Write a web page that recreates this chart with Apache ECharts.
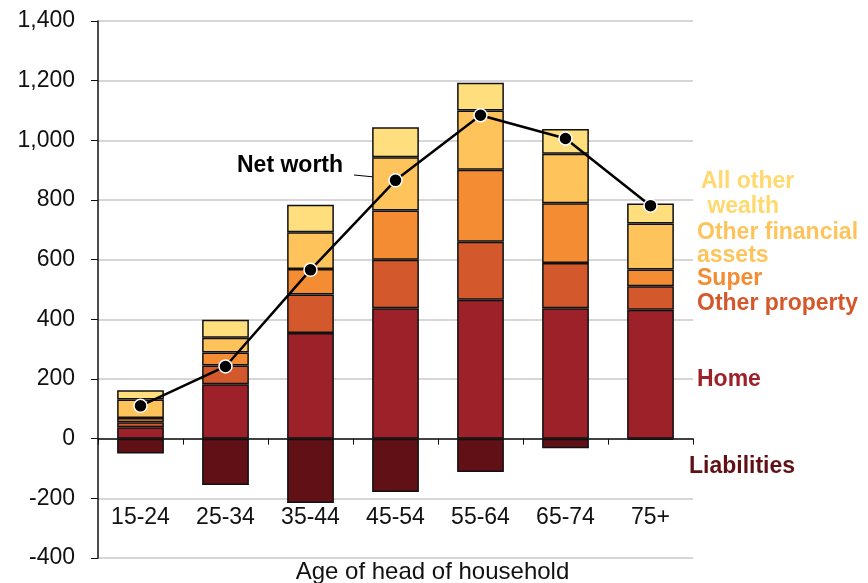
<!DOCTYPE html>
<html>
<head>
<meta charset="utf-8">
<script src="https://cdn.jsdelivr.net/npm/echarts@6/dist/echarts.min.js"></script>
<style>
  html, body { margin: 0; padding: 0; background: #fff; }
  #chart { width: 868px; height: 583px; }
</style>
</head>
<body>
<div id="chart"></div>
<script>
// age groups
const ages = ['15-24', '25-34', '35-44', '45-54', '55-64', '65-74', '75+'];

// wealth components ($'000)
const home = [38, 182, 354, 437, 466, 437, 432];
const otherProperty = [17, 63, 129, 163, 194, 152, 79];
const superAnn = [14, 44, 86, 165, 241, 200, 56];
const otherFinancial = [62, 49, 123, 178, 199, 166, 154];
const allOther = [31, 61, 92, 101, 93, 83, 67];
const liabilities = [-50, -155, -216, -179, -112, -32, -4];
const netWorth = [110, 242, 566, 866, 1084, 1006, 781];

const colors = {
  home: '#9d2128',
  otherProperty: '#d3582b',
  super: '#f38c32',
  otherFinancial: '#fec45b',
  allOther: '#ffde7d',
  liabilities: '#611016'
};

const font = 'Liberation Sans, Arial, sans-serif';
const chart = echarts.init(document.getElementById('chart'));

function barSeries(name, data, color) {
  return {
    name: name,
    type: 'bar',
    stack: 'wealth',
    data: data,
    barWidth: '55%',
    itemStyle: { color: color, borderColor: '#111', borderWidth: 1.5 }
  };
}

function sideLabel(text, x, y, color, lh) {
  return {
    type: 'text',
    left: x,
    top: y,
    style: {
      text: text,
      fill: color,
      font: 'bold 23px ' + font,
      lineHeight: lh || 24
    }
  };
}

chart.setOption({
  animation: false,
  grid: { left: 98, right: 175, top: 21, bottom: 25, outerBoundsMode: 'none' },
  xAxis: {
    type: 'category',
    data: ages,
    name: 'Age of head of household',
    nameLocation: 'middle',
    nameGap: 2,
    nameMoveOverlap: false,
    nameTextStyle: { fontSize: 24, color: '#111', fontFamily: font, padding: [0, 0, 0, 74] },
    axisLine: { onZero: true, lineStyle: { color: '#111', width: 1.5 } },
    axisTick: { show: true, length: 6, lineStyle: { color: '#111' } },
    axisLabel: { margin: -52, fontSize: 23, color: '#111', fontFamily: font }
  },
  yAxis: {
    type: 'value',
    min: -400,
    max: 1400,
    interval: 200,
    axisLine: { show: true, lineStyle: { color: '#111', width: 1.5 } },
    axisTick: { show: true, inside: false, length: 7, lineStyle: { color: '#111' } },
    axisLabel: {
      margin: 23,
      fontSize: 23,
      color: '#111',
      fontFamily: font,
      formatter: v => v.toLocaleString('en-US')
    },
    splitLine: { lineStyle: { color: '#c8c8c8', width: 1.5 } }
  },
  series: [
    barSeries('Home', home, colors.home),
    barSeries('Other property', otherProperty, colors.otherProperty),
    barSeries('Super', superAnn, colors.super),
    barSeries('Other financial assets', otherFinancial, colors.otherFinancial),
    barSeries('All other wealth', allOther, colors.allOther),
    barSeries('Liabilities', liabilities, colors.liabilities),
    {
      name: 'Net worth',
      type: 'line',
      data: netWorth,
      z: 10,
      symbol: 'circle',
      symbolSize: 13,
      lineStyle: { color: '#000', width: 2.5 },
      itemStyle: { color: '#000', borderColor: '#fff', borderWidth: 1.5 }
    }
  ],
  graphic: [
    {
      type: 'text',
      left: 237,
      top: 154,
      style: { text: 'Net worth', fill: '#000', font: 'bold 23px ' + font }
    },
    {
      type: 'line',
      shape: { x1: 354, y1: 175, x2: 385, y2: 178 },
      style: { stroke: '#000', lineWidth: 1 }
    },
    sideLabel('All other\n wealth', 701, 169, '#ffd86e', 25),
    sideLabel('Other financial\nassets', 697, 221, colors.otherFinancial, 23),
    sideLabel('Super', 697, 267, colors.super),
    sideLabel('Other property', 697, 292, colors.otherProperty),
    sideLabel('Home', 697, 368, colors.home),
    sideLabel('Liabilities', 689, 455, colors.liabilities)
  ]
});
</script>
</body>
</html>
